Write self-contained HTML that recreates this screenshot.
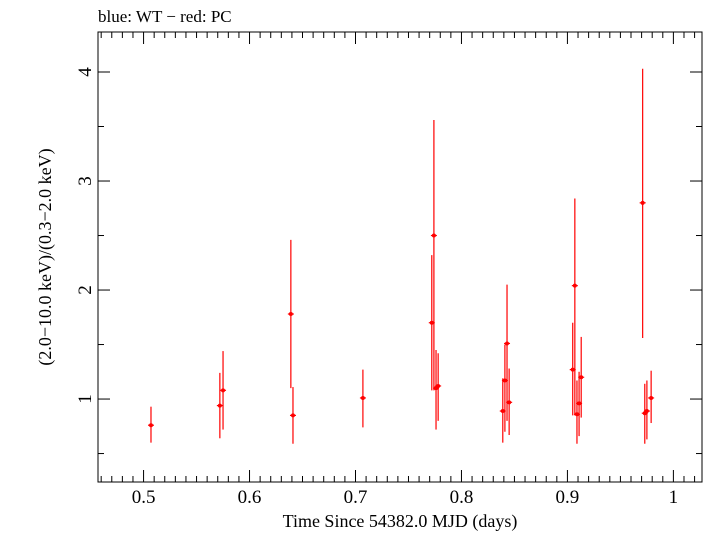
<!DOCTYPE html>
<html><head><meta charset="utf-8"><style>
html,body{margin:0;padding:0;background:#fff}
svg text{font-family:"Liberation Serif",serif;fill:#000}
</style></head><body>
<svg id="chart" width="705" height="532" viewBox="0 0 705 532" xmlns="http://www.w3.org/2000/svg">
<text x="98" y="22" font-size="17">blue: WT − red: PC</text>
<rect x="98" y="32" width="604" height="450" fill="none" stroke="#000" stroke-width="1"/>
<g id="axes"></g>
<g id="marks"></g>
<text x="400" y="527" font-size="18" text-anchor="middle">Time Since 54382.0 MJD (days)</text>
<text transform="translate(51,257) rotate(-90)" font-size="18" text-anchor="middle">(2.0−10.0 keV)/(0.3−2.0 keV)</text>
</svg>
<script>
const times=[0.507,0.572,0.575,0.639,0.641,0.707,0.772,0.774,0.776,0.778,0.839,0.841,0.843,0.845,0.905,0.907,0.909,0.911,0.913,0.971,0.973,0.975,0.979];
const ratios=[0.76,0.94,1.08,1.78,0.85,1.01,1.70,2.50,1.10,1.12,0.89,1.17,1.51,0.97,1.27,2.04,0.86,0.96,1.20,2.80,0.87,0.89,1.01];
const errLow=[0.60,0.64,0.72,1.10,0.59,0.74,1.08,1.08,0.72,0.80,0.60,0.70,0.80,0.67,0.85,0.85,0.59,0.66,0.83,1.56,0.59,0.63,0.78];
const errHigh=[0.93,1.24,1.44,2.46,1.11,1.27,2.32,3.56,1.45,1.42,1.19,1.50,2.05,1.28,1.70,2.84,1.17,1.25,1.57,4.03,1.14,1.17,1.26];
const xTicks=[0.5,0.6,0.7,0.8,0.9,1.0];
const xTickLabels=["0.5","0.6","0.7","0.8","0.9","1"];
const yTicks=[1,2,3,4];
const yTickLabels=["1","2","3","4"];
const X0=98,X1=702,Y0=482,Y1=32,TMIN=0.457,TMAX=1.027,VMIN=0.239,VMAX=4.367;
const xs=t=>X0+(t-TMIN)/(TMAX-TMIN)*(X1-X0);
const ys=v=>Y0-(v-VMIN)/(VMAX-VMIN)*(Y0-Y1);
const NS="http://www.w3.org/2000/svg";
const axes=document.getElementById('axes'),marks=document.getElementById('marks');
function mk(tag,attrs,parent){const e=document.createElementNS(NS,tag);for(const k in attrs)e.setAttribute(k,attrs[k]);parent.appendChild(e);return e;}
for(let i=46;i<=102;i++){const t=i/100;const x=xs(t);if(x<X0||x>X1)continue;const major=i%10===0;const L=major?12:6;
const a=mk('line',{x1:x,x2:x,y1:Y0,y2:Y0-L,stroke:'#000'},axes);


const b=mk('line',{x1:x,x2:x,y1:Y1,y2:Y1+L,stroke:'#000'},axes);

}
xTicks.forEach((t,i)=>{const tx=mk('text',{x:xs(t),y:503,'font-size':19,'text-anchor':'middle'},axes);tx.textContent=xTickLabels[i];

});
for(let i=1;i<=8;i++){const v=i/2;const y=ys(v);const major=i%2===0;const L=major?12:6;
const a=mk('line',{x1:X0,x2:X0+L,y1:y,y2:y,stroke:'#000'},axes);


const b=mk('line',{x1:X1,x2:X1-L,y1:y,y2:y,stroke:'#000'},axes);

}
yTicks.forEach((v,i)=>{const tx=mk('text',{transform:`translate(91,${ys(v)}) rotate(-90)`,'font-size':19,'text-anchor':'middle'},axes);tx.textContent=yTickLabels[i];

});
times.forEach((t,i)=>{const x=xs(t);
const g=mk('g',{},marks);


mk('line',{x1:x,x2:x,y1:ys(errLow[i]),y2:ys(errHigh[i]),stroke:'#f00','stroke-width':1.2},g);
mk('line',{x1:x-3,x2:x+3,y1:ys(ratios[i]),y2:ys(ratios[i]),stroke:'#f00','stroke-width':1.2},g);
mk('circle',{cx:x,cy:ys(ratios[i]),r:2,fill:'#f00'},g);});
</script>
</body></html>
